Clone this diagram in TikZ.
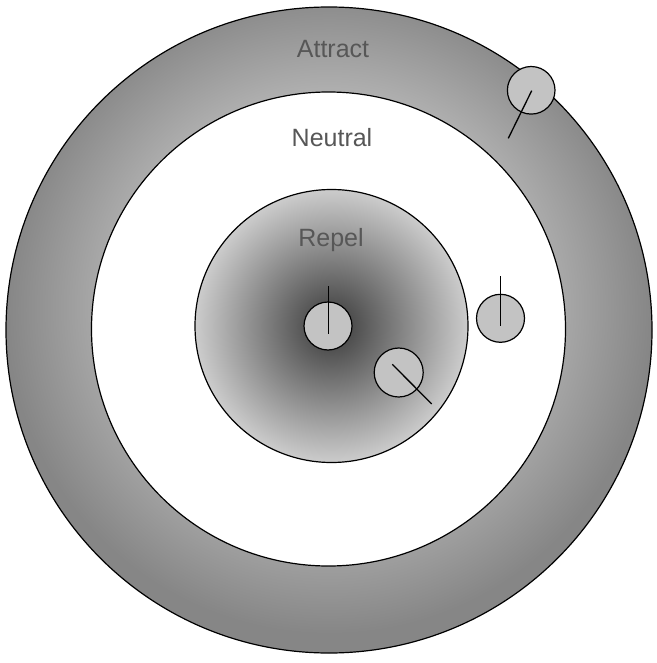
\documentclass[tikz,border=0pt]{standalone}
\usepackage{fontspec}
\setmainfont{Liberation Sans}
\definecolor{txt}{HTML}{575757}
\definecolor{knobfill}{HTML}{C3C3C3}
\definecolor{ringout}{HTML}{868686}
\definecolor{repcen}{HTML}{383838}
\definecolor{repedge}{HTML}{CCCCCC}
\pgfdeclareradialshading{attractshade}{\pgfpoint{0bp}{3bp}}{color(0bp)=(white); color(25bp)=(ringout); color(50bp)=(ringout)}
\pgfdeclareradialshading{repelshade}{\pgfpoint{0bp}{0bp}}{color(0bp)=(repcen); color(25bp)=(repedge); color(50bp)=(repedge)}
\begin{document}
\begin{tikzpicture}[x=1pt,y=-1pt,
  zone/.style={circle, draw=black, line width=1.2pt, inner sep=0pt},
  knob/.style={circle, draw=black, line width=1.2pt, fill=knobfill, inner sep=0pt, minimum size=48pt},
  needle/.style={draw=black, line width=1.3pt},
  lbl/.style={text=txt, font=\fontsize{25}{30}\selectfont, anchor=base, inner sep=0pt}]
\useasboundingbox (0,0) rectangle (656,663);
\node[zone, minimum size=646pt, shading=attractshade] (attract) at (329,330) {};
\node[zone, minimum size=474pt, fill=white] (neutral) at (328.5,329) {};
\node[zone, minimum size=273pt, shading=repelshade] (repel) at (331.5,326) {};
\node[lbl] (tattract) at (333,57.7) {Attract};
\node[lbl] (tneutral) at (332,146.7) {Neutral};
\node[lbl] (trepel) at (331,246.7) {Repel};
\node[knob, minimum size=47.6pt] (k1) at (531.2,90.3) {};
\node[knob] (k2) at (328,326) {};
\node[knob] (k3) at (500.5,318.3) {};
\node[knob, minimum size=49pt] (k4) at (398.7,372.5) {};
\coordinate (n1a) at (531.7,90.7);
\coordinate (n1b) at (508.3,138.3);
\coordinate (n2a) at (328.3,286);
\coordinate (n2b) at (328.3,334);
\coordinate (n3a) at (500.3,276);
\coordinate (n3b) at (500.3,326);
\coordinate (n4a) at (392.3,364.3);
\coordinate (n4b) at (431.7,404);
\draw[needle] (n1a) -- (n1b);
\draw[needle] (n2a) -- (n2b);
\draw[needle] (n3a) -- (n3b);
\draw[needle] (n4a) -- (n4b);
\end{tikzpicture}
\end{document}
